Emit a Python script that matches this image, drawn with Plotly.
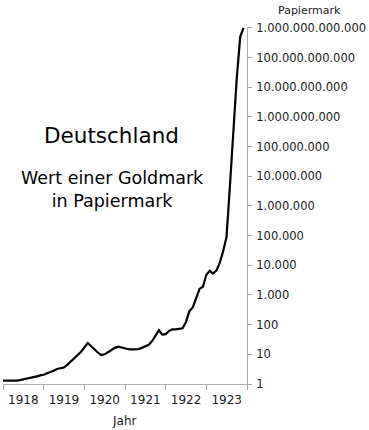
import plotly.graph_objects as go
import pandas as pd

# Monthly value of one gold mark in paper marks, Jan 1918 .. Dec 1923
months = pd.date_range("1918-01-01", periods=72, freq="MS")
values = [
    # 1918
    1.29, 1.28, 1.27, 1.27, 1.30, 1.35, 1.42, 1.50, 1.58, 1.65, 1.80, 1.95,
    # 1919
    2.05, 2.3, 2.5, 2.8, 3.2, 3.4, 3.6, 4.4, 5.6, 7.0, 9.0, 12.0,
    # 1920
    17.0, 24.0, 19.0, 14.5, 11.5, 9.5, 10.0, 11.8, 14.0, 16.5, 18.0, 17.0,
    # 1921
    15.5, 14.8, 14.7, 14.8, 15.0, 16.5, 19.0, 21.0, 28.0, 42.0, 65.0, 46.0,
    # 1922
    48.0, 62.0, 69.0, 69.0, 70.0, 75.0, 120.0, 280.0, 380.0, 750.0, 1600.0, 1900.0,
    # 1923
    4800.0, 6500.0, 5300.0, 6600.0, 12000.0, 30000.0, 90000.0,
    5.0e6, 4.0e8, 2.0e10, 5.0e11, 1.0e12,
]

y_tickvals = [1, 10, 100, 1e3, 1e4, 1e5, 1e6, 1e7, 1e8, 1e9, 1e10, 1e11, 1e12]
y_ticktext = [
    "1", "10", "100", "1.000", "10.000", "100.000", "1.000.000",
    "10.000.000", "100.000.000", "1.000.000.000", "10.000.000.000",
    "100.000.000.000", "1.000.000.000.000",
]

FONT = "DejaVu Sans"
AXIS_COL = "#aaaaaa"
TXT = "#1a1a1a"

fig = go.Figure()
fig.add_trace(go.Scatter(
    x=months, y=values, mode="lines",
    line=dict(color="black", width=2.2),
    hoverinfo="skip", showlegend=False,
))

fig.update_layout(
    width=369, height=430,
    margin=dict(l=3, r=122, t=27, b=46),
    paper_bgcolor="white", plot_bgcolor="white",
    font=dict(family=FONT, color=TXT, size=11.5),
    showlegend=False,
)

fig.update_xaxes(
    type="date",
    range=["1918-01-01", "1924-01-01"],
    tick0="1918-01-01", dtick="M12",
    ticklabelmode="period", tickformat="%Y",
    ticks="outside", ticklen=5, tickcolor=AXIS_COL, tickwidth=1,
    showline=True, linecolor=AXIS_COL, linewidth=1,
    showgrid=False, zeroline=False,
    tickfont=dict(family=FONT, size=12, color=TXT),
)

fig.update_yaxes(
    type="log", range=[0, 12.03], side="right",
    tickvals=y_tickvals, ticktext=y_ticktext,
    ticks="outside", ticklen=4, tickcolor=AXIS_COL, tickwidth=1,
    ticklabelstandoff=2,
    showline=True, linecolor=AXIS_COL, linewidth=1,
    showgrid=False, zeroline=False,
    tickfont=dict(family=FONT, size=11.5, color=TXT),
)

fig.add_annotation(text="Deutschland", xref="paper", yref="paper",
                   x=0.445, y=0.697, xanchor="center", yanchor="middle",
                   showarrow=False, font=dict(family=FONT, size=21.5, color="black"))
fig.add_annotation(text="Wert einer Goldmark<br>in Papiermark", xref="paper", yref="paper",
                   x=0.447, y=0.546, xanchor="center", yanchor="middle",
                   showarrow=False, font=dict(family=FONT, size=17.5, color="black"))
fig.add_annotation(text="Papiermark", xref="paper", yref="paper",
                   x=1.256, y=1.0476, xanchor="center", yanchor="middle",
                   showarrow=False, font=dict(family=FONT, size=11, color=TXT))
fig.add_annotation(text="Jahr", xref="paper", yref="paper",
                   x=0.496, y=-0.1036, xanchor="center", yanchor="middle",
                   showarrow=False, font=dict(family=FONT, size=12, color=TXT))

fig.write_html(
    "out.html",
    config={"displayModeBar": False, "staticPlot": True},
    post_script="document.body.style.margin='0';document.body.style.overflow='hidden';",
)
